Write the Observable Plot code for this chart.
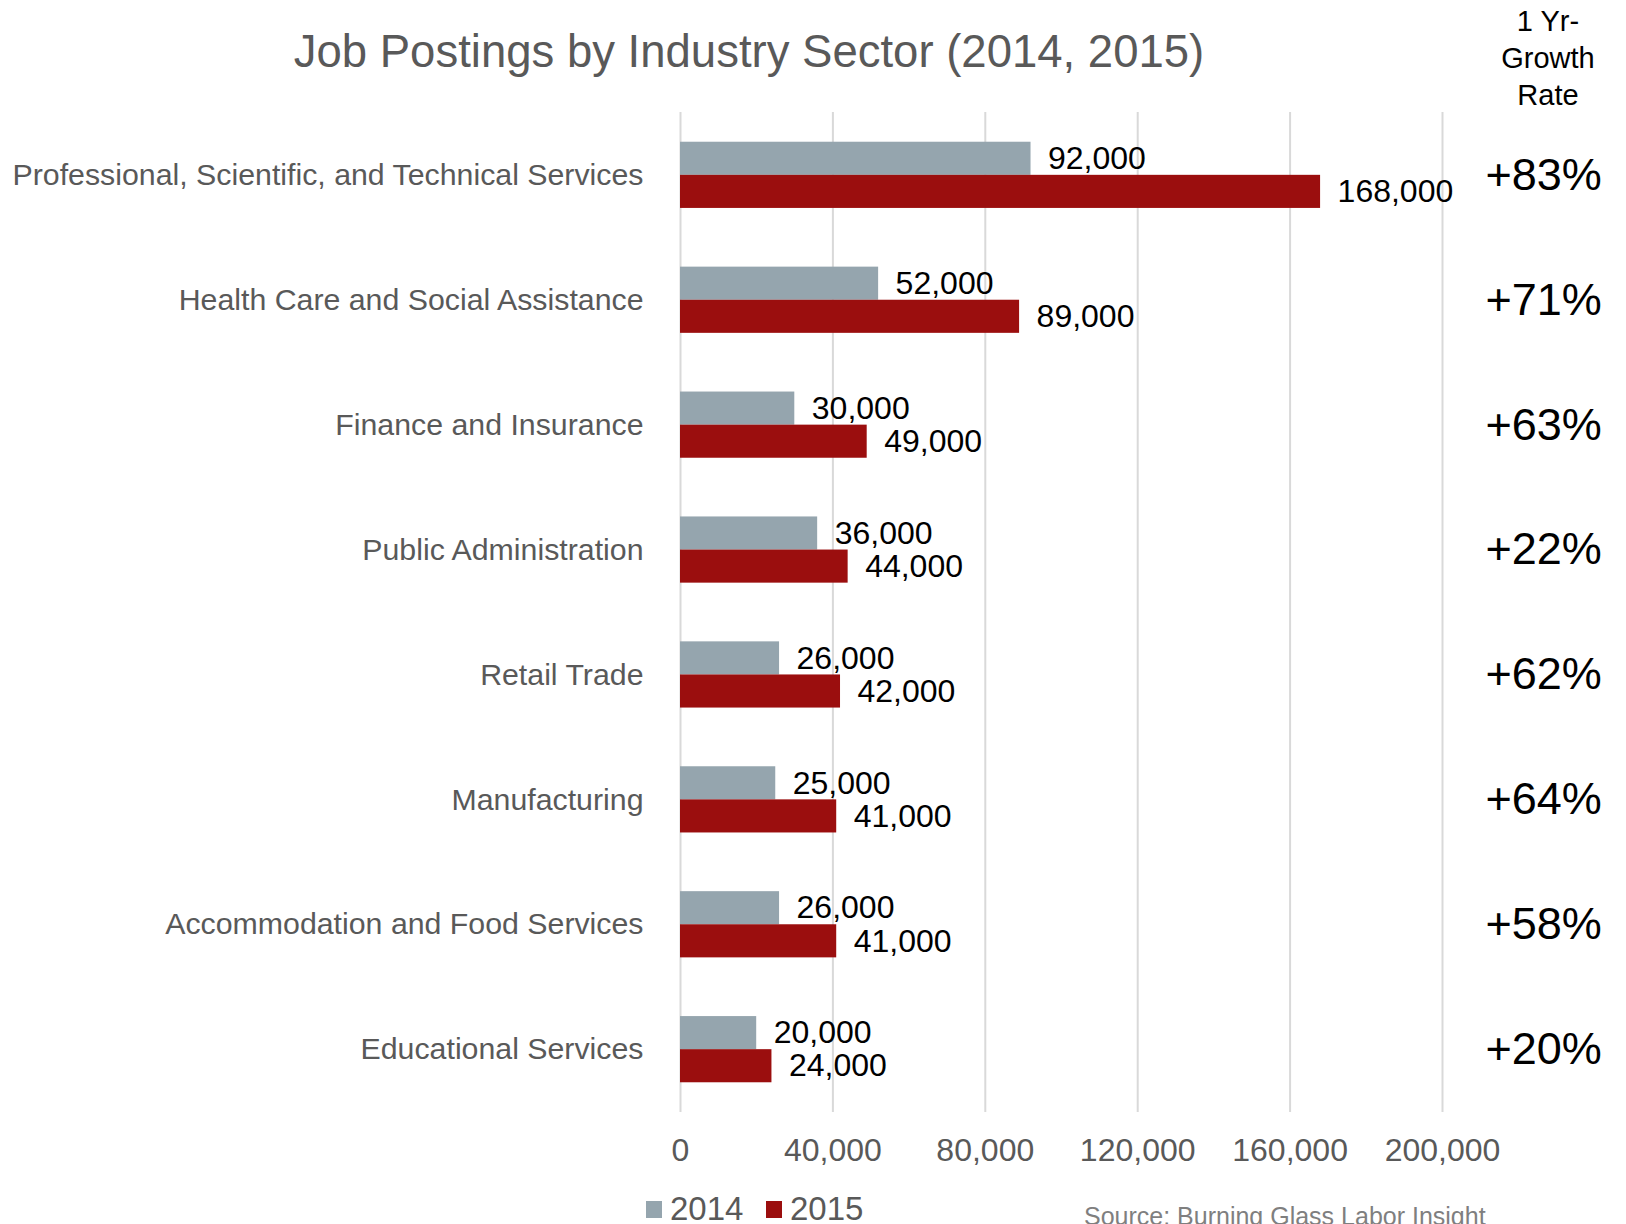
<!DOCTYPE html>
<html>
<head>
<meta charset="utf-8">
<script src="https://cdn.jsdelivr.net/npm/d3@7"></script>
<script src="https://cdn.jsdelivr.net/npm/@observablehq/plot@0.6"></script>
<style>
  html, body { margin: 0; padding: 0; background: #fff; overflow: hidden; width: 1626px; height: 1224px; }
  body { font-family: "Liberation Sans", Arial, sans-serif; }
  #head { position: relative; width: 1626px; height: 100px; overflow: visible; z-index: 2; }
  #title { position: absolute; left: 0; width: 1498px; top: 29px; text-align: center; font-size: 45.5px; line-height: 45px; color: #595959; }
  #ghead { position: absolute; left: 1448px; width: 200px; top: 3px; text-align: center; font-size: 29px; line-height: 37px; color: #000; }
  #chart { position: relative; width: 1626px; height: 1080px; z-index: 1; }
  #foot { position: relative; width: 1626px; height: 44px; }
  .sw { position: absolute; top: 21px; width: 16px; height: 17px; }
  .lt { position: absolute; top: 12px; font-size: 33px; line-height: 34px; color: #595959; }
  #source { position: absolute; left: 1084px; top: 24px; font-size: 25px; line-height: 25px; color: #7f7f7f; white-space: nowrap; }
</style>
</head>
<body>
<div id="head">
  <div id="title">Job Postings by Industry Sector (2014, 2015)</div>
  <div id="ghead">1 Yr-<br>Growth<br>Rate</div>
</div>
<div id="chart"></div>
<div id="foot">
  <div class="sw" style="left:646px;background:#95a5ae"></div>
  <div class="lt" style="left:670px">2014</div>
  <div class="sw" style="left:766px;background:#9b0e0e"></div>
  <div class="lt" style="left:790px">2015</div>
  <div id="source">Source: Burning Glass Labor Insight</div>
</div>
<script>
const categories = [
  "Professional, Scientific, and Technical Services",
  "Health Care and Social Assistance",
  "Finance and Insurance",
  "Public Administration",
  "Retail Trade",
  "Manufacturing",
  "Accommodation and Food Services",
  "Educational Services"
];
const values2014 = [92000, 52000, 30000, 36000, 26000, 25000, 26000, 20000];
const values2015 = [168000, 89000, 49000, 44000, 42000, 41000, 41000, 24000];
const growthLabels = ["+83%", "+71%", "+63%", "+22%", "+62%", "+64%", "+58%", "+20%"];
const xTicks = [0, 40000, 80000, 120000, 160000, 200000];

const rows2014 = categories.map((c, i) => ({category: c, value: values2014[i]}));
const rows2015 = categories.map((c, i) => ({category: c, value: values2015[i]}));
const growthRows = categories.map((c, i) => ({category: c, label: growthLabels[i]}));

const W = 1626, H = 1080;
const mTop = 12, mBottom = 68, mLeft = 680, mRight = 184;
const pIn = 0.47, pOut = 0.238;
const plotH = H - mTop - mBottom;
const bw = plotH * (1 - pIn) / (categories.length - pIn + 2 * pOut);
const fmt = d3.format(",");

const grey = "#95a5ae", red = "#9b0e0e";

const chart = Plot.plot({
  width: W,
  height: H,
  marginTop: mTop,
  marginBottom: mBottom,
  marginLeft: mLeft,
  marginRight: mRight,
  style: {fontFamily: "'Liberation Sans', Arial, sans-serif", background: "transparent", overflow: "visible"},
  x: {domain: [0, 200000], axis: null},
  y: {domain: categories, paddingInner: pIn, paddingOuter: pOut, round: false, axis: null},
  marks: [
    Plot.gridX(xTicks, {stroke: "#d9d9d9", strokeOpacity: 1, strokeWidth: 2}),
    Plot.barX(rows2014, {x: "value", y: "category", fill: grey, insetBottom: bw / 2}),
    Plot.barX(rows2015, {x: "value", y: "category", fill: red, insetTop: bw / 2}),
    Plot.text(rows2014, {x: "value", y: "category", text: d => fmt(d.value), textAnchor: "start", dx: 17, dy: -bw / 4, fontSize: 32, fill: "#000"}),
    Plot.text(rows2015, {x: "value", y: "category", text: d => fmt(d.value), textAnchor: "start", dx: 17, dy: bw / 4, fontSize: 32, fill: "#000"}),
    Plot.text(growthRows, {y: "category", text: "label", frameAnchor: "right", textAnchor: "start", dx: 43, fontSize: 45, fill: "#000"}),
    Plot.axisX({ticks: xTicks, tickFormat: fmt, tickSize: 0, tickPadding: 26, fontSize: 32, color: "#595959", label: null}),
    Plot.axisY({tickSize: 0, tickPadding: 37, fontSize: 30.3, color: "#595959", label: null})
  ]
});
document.getElementById("chart").appendChild(chart);
</script>
</body>
</html>
